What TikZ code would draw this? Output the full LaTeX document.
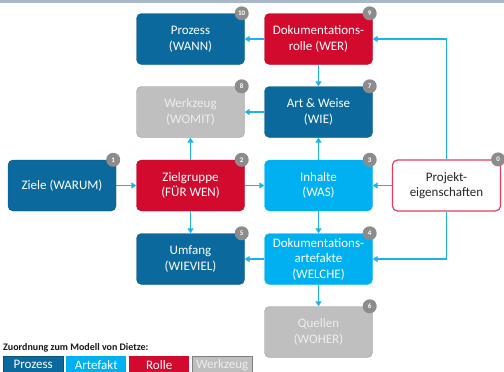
\documentclass[tikz,border=0pt]{standalone}
\usepackage{fontspec}
\setmainfont{Carlito}
\usetikzlibrary{arrows.meta,calc}
\definecolor{proz}{HTML}{0B699E}
\definecolor{artef}{HTML}{00B0F0}
\definecolor{rolle}{HTML}{D20A2E}
\definecolor{werkz}{HTML}{BFBFBF}
\definecolor{arr}{HTML}{1DB2EE}
\definecolor{badge}{HTML}{8C8C8C}
\definecolor{projb}{HTML}{E0405C}
\begin{document}
\begin{tikzpicture}[x=1pt,y=-1pt,
  box/.style={rounded corners=5pt,minimum width=108pt,minimum height=51pt,align=center,font=\fontsize{13}{15.5}\selectfont,inner sep=1pt},
  bproz/.style={box,fill=proz,draw=proz!85!black,text=white},
  bart/.style={box,fill=artef,draw=artef!90!white,text=white},
  brol/.style={box,fill=rolle,draw=rolle!85!black,text=white},
  bwz/.style={box,fill=werkz,draw=werkz!80!black,text=white!93!black},
  bproj/.style={box,fill=white,draw=projb,line width=1.2pt,text=black!85},
  bdg/.style={circle,fill=badge,text=white,inner sep=0pt,minimum size=14pt,font=\fontsize{7}{8}\bfseries\selectfont},
  con/.style={draw=arr,line width=1.4pt,-{Triangle[length=5pt,width=6pt]}},
  leg/.style={minimum width=60pt,minimum height=17pt,inner sep=0pt,font=\fontsize{13}{15}\selectfont,anchor=north west}
]
\useasboundingbox (0,0) rectangle (504,372);
\fill[white] (0,0) rectangle (504,372);
\fill[color={rgb,255:red,168;green,184;blue,200}] (0,0) rectangle (504,2.5);

\node[bproz] (wann) at (190.5,39) {Prozess\\(WANN)};
\node[brol] (wer) at (318.5,39) {Dokumentations-\\rolle (WER)};
\node[bwz] (womit) at (190.5,112) {Werkzeug\\(WOMIT)};
\node[bproz] (wie) at (318.5,112) {Art \& Weise\\(WIE)};
\node[bproz] (warum) at (62,185.5) {Ziele (WARUM)};
\node[brol] (fuer) at (190.5,185.5) {Zielgruppe\\(FÜR WEN)};
\node[bart] (was) at (318.5,185.5) {Inhalte\\(WAS)};
\node[bproj] (proj) at (446.5,185.5) {Projekt-\\eigenschaften};
\node[bproz] (wieviel) at (190.5,259) {Umfang\\(WIEVIEL)};
\node[bart] (welche) at (318.5,259) {Dokumentations-\\artefakte\\(WELCHE)};
\node[bwz] (woher) at (318.5,332) {Quellen\\(WOHER)};

\foreach \n/\t in {wann/10,wer/9,womit/8,wie/7,warum/1,fuer/2,was/3,proj/0,wieviel/5,welche/4,woher/6}
  \node[bdg] (b\n) at ($(\n.north east)+(-3,0)$) {\t};

\draw[con] (warum) -- (fuer);
\draw[con] (fuer) -- (was);
\draw[con] (fuer) -- (womit);
\draw[con] (fuer) -- (wieviel);
\draw[con] (was) -- (wie);
\draw[con] (was) -- (welche);
\draw[con] (wer) -- (wie);
\draw[con] (wer) -- (wann);
\draw[con] (wie) -- (womit);
\draw[con] (welche) -- (wieviel);
\draw[con] (welche) -- (woher);
\draw[con] (proj) -- (was);
\draw[con] (proj.north) |- (wer.east);
\draw[con] (proj.south) |- (welche.east);

\node[anchor=west,font=\fontsize{10}{12}\bfseries\selectfont,text=black!90,inner sep=0pt] (legt) at (3,348) {Zuordnung zum Modell von Dietze:};
\node[leg,fill=proz,draw=proz!80!black,text=white] (l1) at (3,356) {Prozess};
\node[leg,fill=artef,text=white] (l2) at (66,356) {Artefakt};
\node[leg,fill=rolle,text=white] (l3) at (129,356) {Rolle};
\node[leg,fill=werkz,draw=black!50,text=white!93!black] (l4) at (192,356) {Werkzeug};
\end{tikzpicture}
\end{document}
